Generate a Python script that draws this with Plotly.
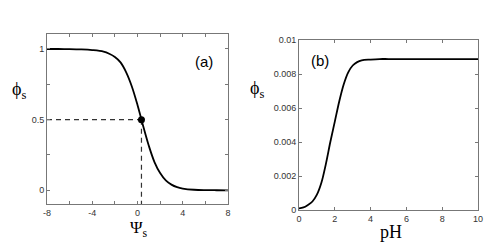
import plotly.graph_objects as go

W, H = 488, 246

# Panel (a): phi_s vs Psi_s
psi = [-8, -7, -6, -5, -4, -3, -2.5, -2, -1.5, -1, -0.5, 0, 0.35, 0.5, 1, 1.5, 2, 2.5, 3, 3.5, 4, 5, 6, 7, 8]
phi_a = [1.0, 0.9998, 0.999, 0.997, 0.992, 0.981, 0.966, 0.943, 0.905, 0.835, 0.735, 0.604, 0.5, 0.455,
         0.315, 0.2, 0.122, 0.07, 0.04, 0.022, 0.0125, 0.004, 0.0012, 0.0004, 0.0001]
mid_psi = 0.35
mid_phi = 0.5
dash_h_x = [-8, mid_psi]
dash_h_y = [mid_phi, mid_phi]
dash_v_x = [mid_psi, mid_psi]
dash_v_y = [mid_phi, -0.1]

a_xticks = [-8, -6, -4, -2, 0, 2, 4, 6, 8]
a_xtext = ["-8", "", "-4", "", "0", "", "4", "", "8"]
a_yticks = [0, 0.25, 0.5, 0.75, 1]
a_ytext = ["0", "", "0.5", "", "1"]

# Panel (b): phi_s vs pH
ph = [0, 0.25, 0.5, 0.75, 1, 1.25, 1.5, 1.75, 2, 2.25, 2.5, 2.75, 3, 3.25, 3.5, 4, 4.5, 5, 6, 7, 8, 9, 10]
phi_b = [0.0001, 0.00015, 0.0003, 0.0005, 0.0009, 0.0016, 0.0027, 0.0040, 0.0052, 0.0064, 0.0074, 0.0081,
         0.0085, 0.0087, 0.0088, 0.00885, 0.00888, 0.00888, 0.00888, 0.00888, 0.00888, 0.00888, 0.00888]
b_xticks = [0, 2, 4, 6, 8, 10]
b_xtext = ["0", "2", "4", "6", "8", "10"]
b_yticks = [0, 0.002, 0.004, 0.006, 0.008, 0.01]
b_ytext = ["0", "0.002", "0.004", "0.006", "0.008", "0.01"]


def px(x):
    return x / W


def py(y):
    return 1 - y / H


fig = go.Figure()
fig.add_trace(go.Scatter(x=dash_h_x, y=dash_h_y, mode="lines",
                         line=dict(color="#333", width=1.2, dash="5px,4px"),
                         xaxis="x", yaxis="y", showlegend=False))
fig.add_trace(go.Scatter(x=dash_v_x, y=dash_v_y, mode="lines",
                         line=dict(color="#333", width=1.2, dash="5px,4px"),
                         xaxis="x", yaxis="y", showlegend=False))
fig.add_trace(go.Scatter(x=psi, y=phi_a, mode="lines", line=dict(color="black", width=1.8, shape="spline"),
                         xaxis="x", yaxis="y", showlegend=False))
fig.add_trace(go.Scatter(x=[mid_psi], y=[mid_phi], mode="markers",
                         marker=dict(color="black", size=7),
                         xaxis="x", yaxis="y", showlegend=False))
fig.add_trace(go.Scatter(x=ph, y=phi_b, mode="lines", line=dict(color="black", width=1.8, shape="spline"),
                         xaxis="x2", yaxis="y2", showlegend=False))

axcommon = dict(showline=True, linecolor="#777", linewidth=1, mirror="ticks", ticks="inside",
                ticklen=3, tickcolor="#777", showgrid=False, zeroline=False, automargin=False,
                tickfont=dict(family="Liberation Sans, Arial, sans-serif", size=9, color="#333"))

fig.update_layout(
    width=W, height=H, margin=dict(l=0, r=0, t=0, b=0, pad=0), autosize=False,
    paper_bgcolor="white", plot_bgcolor="white",
    xaxis=dict(domain=[px(47), px(228)], range=[-8, 8], anchor="y",
               tickmode="array", tickvals=a_xticks, ticktext=a_xtext, **axcommon),
    yaxis=dict(domain=[py(204), py(34)], range=[-0.097, 1.106], anchor="x",
               tickmode="array", tickvals=a_yticks, ticktext=a_ytext, **axcommon),
    xaxis2=dict(domain=[px(299), px(478)], range=[0, 10], anchor="y2",
                tickmode="array", tickvals=b_xticks, ticktext=b_xtext, **axcommon),
    yaxis2=dict(domain=[py(210), py(40)], range=[0, 0.01], anchor="x2",
                tickmode="array", tickvals=b_yticks, ticktext=b_ytext, **axcommon),
)

serif = "Liberation Serif, Times New Roman, serif"
sans = "Liberation Sans, Arial, sans-serif"
ann = [
    dict(text="\u03d5<sub>s</sub>", x=px(19), y=py(90), font=dict(family=serif, size=18, color="black")),
    dict(text="\u03d5<sub>s</sub>", x=px(257), y=py(89), font=dict(family=serif, size=18, color="black")),
    dict(text="\u03a8<sub>s</sub>", x=px(139), y=py(229), font=dict(family=serif, size=17, color="black")),
    dict(text="pH", x=px(391), y=py(232), font=dict(family=serif, size=18, color="black")),
    dict(text="(a)", x=px(204), y=py(62), font=dict(family=sans, size=15, color="black")),
    dict(text="(b)", x=px(320), y=py(61), font=dict(family=sans, size=15, color="black")),
]
for a in ann:
    fig.add_annotation(xref="paper", yref="paper", showarrow=False, xanchor="center", yanchor="middle", **a)

fig.write_html("out.html", config={"displayModeBar": False},
               post_script="document.body.style.margin='0';document.body.style.overflow='hidden';")
